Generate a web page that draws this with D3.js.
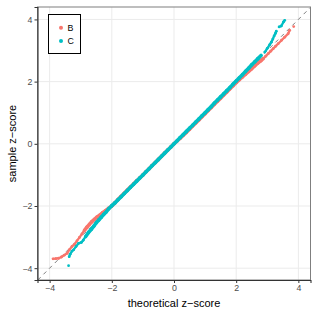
<!DOCTYPE html>
<html>
<head>
<meta charset="utf-8">
<script src="https://cdn.jsdelivr.net/npm/d3@7"></script>
<style>
  body { margin: 0; background: #fff; }
  text { font-family: "Liberation Sans", Arial, sans-serif; }
</style>
</head>
<body>
<script>
// series names and colours
var groups = ["B", "C"];
var colors = ["#F8766D", "#00BFC4"];

// B: theoretical / sample quantiles
var bTheo = [-3.89,-3.80,-3.71,-3.62,-3.53,-3.44,-3.36,-3.28,-3.20,-3.12,-3.04,-2.96,-2.88,-2.80,-2.72,-2.64,-2.56,-2.48,-2.40,-2.30,-2.20,-2.10,-2.00,
  -1.90,-1.80,-1.70,-1.60,-1.50,-1.40,-1.30,-1.20,-1.10,-1.00,-0.90,-0.80,-0.70,-0.60,-0.50,-0.40,-0.30,-0.20,-0.10,0.00,
  0.10,0.20,0.30,0.40,0.50,0.60,0.70,0.80,0.90,1.00,1.10,1.20,1.30,1.40,1.50,1.60,1.70,1.80,1.90,2.00,
  2.10,2.20,2.30,2.40,2.50,2.60,2.70,2.80,2.87,2.95,3.03,3.11,3.19,3.27,3.35,3.46,3.56,3.67,3.72,3.85];
var bSample = [-3.70,-3.69,-3.68,-3.64,-3.58,-3.52,-3.40,-3.30,-3.23,-3.12,-3.01,-2.90,-2.78,-2.68,-2.59,-2.50,-2.43,-2.36,-2.30,-2.22,-2.15,-2.07,-2.00,
  -1.90,-1.79,-1.69,-1.59,-1.49,-1.39,-1.29,-1.19,-1.10,-1.00,-0.90,-0.80,-0.70,-0.60,-0.50,-0.40,-0.30,-0.20,-0.10,0.00,
  0.09,0.18,0.28,0.37,0.47,0.57,0.67,0.77,0.87,0.97,1.07,1.17,1.27,1.37,1.47,1.57,1.67,1.77,1.87,1.97,
  2.06,2.15,2.24,2.33,2.42,2.51,2.60,2.68,2.74,2.82,2.90,2.98,3.06,3.14,3.22,3.33,3.43,3.54,3.65,3.77];

// C
var cTheo = [-3.39,-3.37,-3.34,-3.28,-3.23,-3.15,-3.07,-2.98,-2.92,-2.84,-2.75,-2.66,-2.58,-2.50,-2.42,-2.34,-2.26,-2.18,-2.10,-2.00,
  -1.90,-1.80,-1.70,-1.60,-1.50,-1.40,-1.30,-1.20,-1.10,-1.00,-0.90,-0.80,-0.70,-0.60,-0.50,-0.40,-0.30,-0.20,-0.10,0.00,
  0.10,0.20,0.30,0.40,0.50,0.60,0.70,0.80,0.90,1.00,1.10,1.20,1.30,1.40,1.50,1.60,1.70,1.80,1.90,2.00,
  2.10,2.20,2.30,2.40,2.50,2.60,2.70,2.80,2.92,3.00,3.08,3.13,3.18,3.22,3.26,3.29,3.38,3.45,3.52,3.56];
var cSample = [-3.92,-3.63,-3.55,-3.45,-3.41,-3.30,-3.20,-3.17,-3.10,-2.98,-2.85,-2.75,-2.65,-2.54,-2.45,-2.36,-2.27,-2.19,-2.09,-1.99,
  -1.90,-1.80,-1.70,-1.60,-1.50,-1.40,-1.30,-1.20,-1.10,-1.00,-0.90,-0.80,-0.70,-0.60,-0.50,-0.40,-0.30,-0.20,-0.10,0.00,
  0.10,0.20,0.30,0.40,0.50,0.60,0.70,0.80,0.90,1.00,1.10,1.20,1.31,1.41,1.51,1.61,1.71,1.81,1.92,2.02,
  2.12,2.22,2.33,2.43,2.54,2.64,2.74,2.84,2.95,3.07,3.19,3.27,3.37,3.47,3.55,3.62,3.76,3.79,3.92,3.97];

var ticks = [-4, -2, 0, 2, 4];

var w = 317, h = 317;
var pLeft = 37.5, pRight = 310.5, pTop = 7, pBottom = 280;

var svg = d3.select("body").append("svg")
  .attr("width", w)
  .attr("height", h);

var x = d3.scaleLinear().domain([-4.39, 4.39]).range([pLeft, pRight]);
var y = d3.scaleLinear().domain([-4.38, 4.40]).range([pBottom, pTop]);

// grid
var grid = svg.append("g");
grid.selectAll(".gx").data(ticks).enter().append("line")
  .attr("x1", function(d) { return x(d); }).attr("x2", function(d) { return x(d); })
  .attr("y1", pTop).attr("y2", pBottom)
  .attr("stroke", "#EBEBEB").attr("stroke-width", 1);
grid.selectAll(".gy").data(ticks).enter().append("line")
  .attr("y1", function(d) { return y(d); }).attr("y2", function(d) { return y(d); })
  .attr("x1", pLeft).attr("x2", pRight)
  .attr("stroke", "#EBEBEB").attr("stroke-width", 1);

// reference line y = x
svg.append("line")
  .attr("x1", x(-4.38)).attr("y1", y(-4.38))
  .attr("x2", x(4.39)).attr("y2", y(4.39))
  .attr("stroke", "#7F7F7F")
  .attr("stroke-width", 1)
  .attr("stroke-dasharray", "4,4");

// points
var series = [
  { name: "B", theo: bTheo, sample: bSample },
  { name: "C", theo: cTheo, sample: cSample }
];

series.forEach(function(s, si) {
  var pts = s.theo.map(function(t, i) { return [t, s.sample[i]]; });
  var g = svg.append("g");
  // join dense neighbours so the body reads as a solid band, thinner in the tails
  var segs = [];
  for (var i = 1; i < pts.length; i++) {
    var dx = pts[i][0] - pts[i-1][0], dy = pts[i][1] - pts[i-1][1];
    if (Math.sqrt(dx*dx + dy*dy) < 0.16) segs.push([pts[i-1], pts[i]]);
  }
  g.selectAll("line").data(segs).enter().append("line")
    .attr("x1", function(d) { return x(d[0][0]); })
    .attr("y1", function(d) { return y(d[0][1]); })
    .attr("x2", function(d) { return x(d[1][0]); })
    .attr("y2", function(d) { return y(d[1][1]); })
    .attr("stroke", colors[si])
    .attr("stroke-width", function(d) {
      return (Math.abs(d[0][0]) < 2.9 && Math.abs(d[1][0]) < 2.9) ? 3.6 : 2.3;
    })
    .attr("stroke-linecap", "round");
  g.selectAll("circle").data(pts).enter().append("circle")
    .attr("cx", function(d) { return x(d[0]); })
    .attr("cy", function(d) { return y(d[1]); })
    .attr("r", 1.4)
    .attr("fill", colors[si]);
});

// panel border
svg.append("rect")
  .attr("x", pLeft).attr("y", pTop)
  .attr("width", pRight - pLeft).attr("height", pBottom - pTop)
  .attr("fill", "none")
  .attr("stroke", "#7F7F7F")
  .attr("stroke-width", 1);

// axes
var fmt = function(d) { return d < 0 ? "\u2212" + (-d) : d; };
var xAxis = svg.append("g")
  .attr("transform", "translate(0," + pBottom + ")")
  .call(d3.axisBottom(x).tickValues(ticks).tickSize(3).tickPadding(2).tickFormat(fmt));
var yAxis = svg.append("g")
  .attr("transform", "translate(" + pLeft + ",0)")
  .call(d3.axisLeft(y).tickValues(ticks).tickSize(3).tickPadding(2).tickFormat(fmt));

[xAxis, yAxis].forEach(function(a) {
  a.select(".domain").attr("stroke", "#333333").attr("stroke-width", 1.1);
  a.selectAll(".tick line").attr("stroke", "#333333");
  a.selectAll(".tick text")
    .attr("fill", "#4D4D4D")
    .style("font-size", "8.8px")
    .style("font-family", "Liberation Sans, Arial, sans-serif");
});

// axis titles
svg.append("text")
  .text("theoretical z\u2212score")
  .attr("x", (pLeft + pRight) / 2)
  .attr("y", 307)
  .attr("text-anchor", "middle")
  .style("font-size", "11px")
  .attr("fill", "#000");

svg.append("text")
  .text("sample z\u2212score")
  .attr("transform", "translate(16," + ((pTop + pBottom) / 2) + ") rotate(-90)")
  .attr("text-anchor", "middle")
  .style("font-size", "11px")
  .attr("fill", "#000");

// legend
var legende = svg.append("g");
legende.append("rect")
  .attr("x", 48.5).attr("y", 14.5)
  .attr("width", 32).attr("height", 39)
  .attr("fill", "#fff")
  .attr("stroke", "#000")
  .attr("stroke-width", 1);

groups.forEach(function(name, i) {
  legende.append("circle")
    .attr("cx", 61).attr("cy", 27.7 + i * 13.3)
    .attr("r", 2)
    .attr("fill", colors[i]);
  legende.append("text")
    .text(name)
    .attr("x", 67.5).attr("y", 27.7 + i * 13.3)
    .attr("dy", "0.35em")
    .style("font-size", "8.8px")
    .attr("fill", "#000");
});
</script>
</body>
</html>
